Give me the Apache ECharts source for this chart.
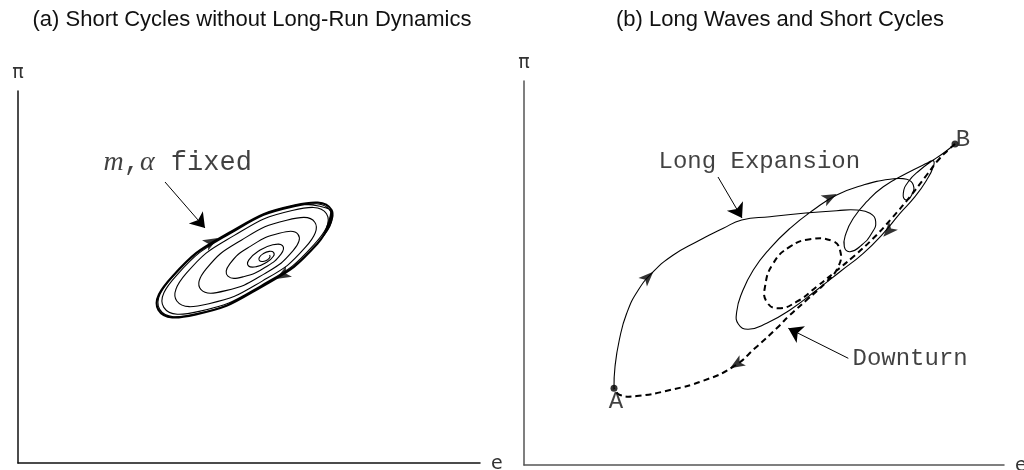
<!DOCTYPE html>
<html><head><meta charset="utf-8">
<script src="https://cdn.jsdelivr.net/npm/echarts/dist/echarts.min.js"></script>
<style>html,body{margin:0;padding:0;background:#fff}#c{width:1024px;height:470px}</style>
</head><body><div id="c"></div>
<script>
// ---------- Panel (a): short cycles (e, pi) ----------
const spiralA = [
 [251.6,207.9],[251.9,205.8],[249.4,203.1],[245,201.5],[241.4,202.3],[241.3,205.4],[245.1,209.2],[251.2,211.6],
 [255.5,210.7],[255.4,206.7],[248.8,200.8],[238.5,196.4],[230.6,197],[230.9,203.1],[240.7,212],[254.8,218.2],
 [264.5,217.3],[263,208.9],[247.7,196],[225.5,186.3],[209.9,186.9],[211.8,199.1],[232.7,216.9],[261.3,229.7],
 [280,228.6],[275.1,212.3],[245.9,188.9],[207.7,172.4],[182.8,173.7],[188.2,194.1],[223.3,222.8],[268.7,242.8],
 [296.8,240.8],[287.5,215.8],[244.2,181.9],[190.9,159.3],[158.8,162],[168.4,189.8],[215.9,227.4],[274.1,252.5],
 [308.5,249.2],[295.8,218.1],[243.2,177.6],[181.1,151.6],[145.8,155.6],[158.6,187.7],[212.6,229.5],[276.2,256.3],
 [312.3,252.1],[298.5,218.9],[242.9,176.3],[178,149.1],[141.7,153.6],[155.6,187.2],[211.7,230.2],[277.3,257.6],
 [313.6,253]
];
const limitCycleA = [
 [313.6,253],[299.4,219.1],[242.8,175.7],[177,148.3],[140.4,153],[154.6,186.9],[211.2,230.3],[277,257.7],[313.6,253],[299.4,219.1]
];
const arrowsA = [[200,225,-60],[258,184,120]];          // [e, pi, direction]
const pointersA = [[[147,281],[187,235]]];
const labelsA = [['{i|m}{c|,}{i|α}{c| fixed}', 85, 300, 'right']];

// ---------- Panel (b): long waves and short cycles ----------
const expansionB = [
 [90,76.7],[91,98.3],[95.3,125],[102.7,151.7],[114.3,175],[129.3,193.3],[149.3,210],[172.7,223.3],[199.3,236.7],
 [217.7,245],[246,248.3],[279.3,251.7],[312.7,254.3],[332.7,255],[346,251.7],[351.7,243.3],[347.7,231.7],
 [337.7,220],[326,213.3],[320.3,218.3],[322,231.7],[329.3,246.7],[342.7,263.3],[359.3,278.3],[382.7,291.7],
 [402.7,301.7],[409.3,304.3],[409.3,298.3],[402.7,285],[391,268.3],[376,251.7],[359.3,231.7],[339.3,211.7],
 [316,193.3],[292.7,175],[266,155],[242.7,141.7],[224.3,135.7],[214.3,141],[212.7,153.3],[217.7,171.7],
 [229.3,195],[246,216.7],[266,236.7],[289.3,255],[312.7,270],[339.3,280],[366,285.7],[382.7,285.7],
 [389.3,280],[387.7,270],[382,265],[379.3,271.7],[384.3,283.3],[396,295],[409.3,305],[419.3,311.7],
 [427.7,318.3],[431,321]
];
const downturnB = [
 [431,321],[424.3,315],[414.3,305],[402.7,290],[386,268.3],[367.7,246.7],[349.3,226.7],[329.3,208.3],
 [309.3,191.7],[292.7,178.3],[272.7,163.3],[254.3,156.7],[242.7,163.3],[241,178.3],[249.3,201.7],[266,218.3],
 [286,225.7],[307.7,224.3],[316,215],[314.3,198.3],[301,181.7],[282.7,165],[266,150],[252.7,136.7],
 [232.7,118.3],[209.3,98.3],[179.3,84.3],[146,75],[112.7,69],[96,70],[90,76.7]
];
const endpointsB = [[90,76.7],[431,321]];
const arrowsB = [[129.3,193.3,-45],[312.7,271,-63],[359.3,228.3,137],[206,96.7,122]];
const pointersB = [[[194,288],[218,247]],[[324.3,106.7],[264.3,136.7]]];
const labelsB = [['Long Expansion',134,303,'right'],['Downturn',328,106,'right'],['A',92,63,'inside'],['B',439,325,'inside']];

const titles = ['(a) Short Cycles without Long-Run Dynamics','(b) Long Waves and Short Cycles'];
const axisNames = {x:'e', y:'π'};

const mono = 'Liberation Mono';
const chart = echarts.init(document.getElementById('c'));

// smooth curve through the data points, positioned by the axes' scales
function curve(data, idx, style){
  return {type:'custom', xAxisIndex:idx, yAxisIndex:idx, data:data, silent:true, z:3,
    renderItem:function(params, api){
      if (params.dataIndex !== 0) return null;
      const pts = [];
      for (let i = 0; i < data.length; i++) pts.push(api.coord([api.value(0, i), api.value(1, i)]));
      return {type:'polyline', shape:{points:pts, smooth:0.5},
        style:Object.assign({fill:null, stroke:'#000', lineWidth:1.1}, style||{})};
    }};
}
function arrows(data, idx){
  return {type:'scatter', xAxisIndex:idx, yAxisIndex:idx, symbol:'arrow', symbolSize:[9,15], silent:true,
    symbolRotate:function(v){return v[2];}, itemStyle:{color:'#000'}, data:data, z:5};
}
function pointers(data, idx){
  return {type:'lines', coordinateSystem:'cartesian2d', xAxisIndex:idx, yAxisIndex:idx, silent:true,
    symbol:['none','arrow'], symbolSize:[8,14], lineStyle:{color:'#000', width:1, opacity:1},
    data:data.map(function(c){return {coords:c};})};
}
function texts(data, idx, size){
  return {type:'scatter', xAxisIndex:idx, yAxisIndex:idx, symbolSize:1, itemStyle:{color:'rgba(0,0,0,0)'}, silent:true,
    data:data.map(function(t){return {value:[t[1],t[2]], label:{formatter:t[0], position:t[3]}};}),
    label:{show:true, distance:0, color:'#111', fontFamily:mono, fontSize:size,
      rich:{i:{fontFamily:'Liberation Serif', fontStyle:'italic', fontSize:size+1, color:'#111'},
            c:{fontFamily:mono, fontSize:size, color:'#111'}}}, z:6};
}
function axisPair(max, color, ePad){
  const line = {show:true, lineStyle:{color:color, width:1.5}};
  return [
    {type:'value', gridIndex:0, min:0, max:max[0], axisLine:line, axisTick:{show:false}, axisLabel:{show:false}, splitLine:{show:false},
     name:'{e|' + axisNames.x + '}', nameLocation:'end', nameGap:11,
     nameTextStyle:{verticalAlign:'middle', rich:{e:{fontFamily:'DejaVu Sans', fontSize:19, color:'#333', padding:[ePad,0,0,0]}}}},
    {type:'value', gridIndex:0, min:0, max:max[1], axisLine:line, axisTick:{show:false}, axisLabel:{show:false}, splitLine:{show:false},
     name:axisNames.y, nameLocation:'end', nameGap:8, nameTextStyle:{fontFamily:'DejaVu Sans', fontSize:19, color:'#333'}}
  ];
}
const ax0 = axisPair([462,372], '#111', 2), ax1 = axisPair([480,384], '#555', 2);
ax1[0].gridIndex = 1; ax1[1].gridIndex = 1;

chart.setOption({
  animation:false,
  backgroundColor:'#fff',
  title: titles.map(function(t,i){return {text:t, left: i===0?252:780, top:9, textAlign:'center', padding:0,
    textStyle:{fontFamily:'Liberation Sans', fontWeight:'normal', fontSize:22, color:'#111'}};}),
  grid:[{left:18, top:91, width:462, height:372, containLabel:false, outerBoundsMode:'none'},
        {left:524, top:81, width:480, height:384, containLabel:false, outerBoundsMode:'none'}],
  xAxis:[ax0[0], ax1[0]],
  yAxis:[ax0[1], ax1[1]],
  series:[
    curve(spiralA, 0, {lineWidth:1.1}),
    curve(limitCycleA, 0, {lineWidth:2}),
    arrows(arrowsA, 0),
    pointers(pointersA, 0),
    texts(labelsA, 0, 27),
    curve(expansionB, 1, {lineWidth:1.1}),
    curve(downturnB, 1, {lineWidth:2, lineDash:[6,4]}),
    {type:'scatter', xAxisIndex:1, yAxisIndex:1, symbolSize:7, itemStyle:{color:'#000'}, data:endpointsB, silent:true, z:5},
    arrows(arrowsB, 1),
    pointers(pointersB, 1),
    texts(labelsB, 1, 24)
  ]
});
</script></body></html>
